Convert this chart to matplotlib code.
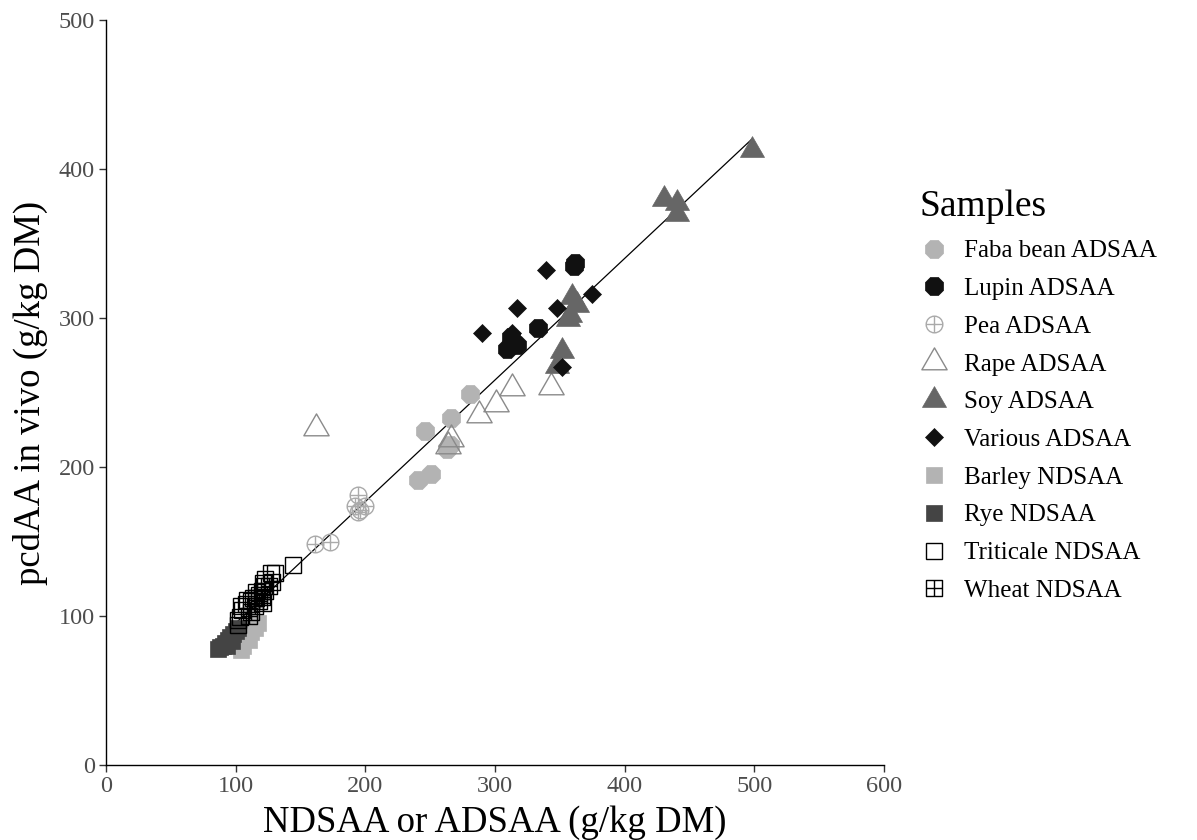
import matplotlib
matplotlib.use("Agg")
import matplotlib.pyplot as plt
from matplotlib.path import Path

plt.rcParams['font.family'] = ['Liberation Serif', 'DejaVu Serif']

# Sample values (g/kg DM): x = NDSAA or ADSAA, y = pcdAA in vivo
faba_x = [241, 251, 246, 263, 265, 266, 281]
faba_y = [191, 195, 224, 212, 215, 233, 249]

lupin_x = [362, 361, 333, 309, 313, 317, 312]
lupin_y = [337, 335, 293, 279, 283, 282, 287]

pea_x = [161, 173, 192, 194, 196, 200, 194]
pea_y = [148, 150, 174, 170, 171, 174, 181]

rape_x = [162, 343, 313, 301, 288, 266, 264]
rape_y = [226, 254, 253, 242, 235, 219, 214]

soy_x = [498, 430, 440, 440, 359, 363, 358, 356, 352, 348]
soy_y = [413, 380, 377, 370, 314, 309, 302, 299, 278, 268]

various_x = [290, 317, 339, 348, 375, 352, 313]
various_y = [290, 307, 332, 307, 316, 267, 290]

barley_x = [103, 108, 112, 115, 117, 106, 100, 110, 104]
barley_y = [83, 86, 89, 92, 95, 80, 82, 84, 77]

rye_x = [86, 88, 90, 92, 94, 96, 98, 100, 93, 97, 102]
rye_y = [78, 79, 80, 82, 84, 86, 88, 90, 80, 83, 92]

triticale_x = [144, 130, 127, 123, 121, 120, 116, 113, 109, 108, 104, 103, 102, 102, 105, 112, 118, 122]
triticale_y = [134, 129, 129, 125, 122, 117, 116, 112, 111, 108, 107, 99, 97, 94, 104, 110, 114, 120]

wheat_x = [112, 115, 118, 120, 123, 126, 128, 116, 110, 121]
wheat_y = [103, 107, 110, 113, 117, 120, 123, 112, 100, 109]

# Linear fit of pcdAA on NDSAA/ADSAA
fit_intercept = 13.6
fit_slope = 0.816
fit_range = [87, 498]

# Marker shapes
circle_plus = Path.make_compound_path(
    Path.unit_circle(),
    Path([[-1, 0], [1, 0]], [Path.MOVETO, Path.LINETO]),
    Path([[0, -1], [0, 1]], [Path.MOVETO, Path.LINETO]),
)
square_plus = Path.make_compound_path(
    Path([[-1, -1], [1, -1], [1, 1], [-1, 1], [-1, -1]],
         [Path.MOVETO, Path.LINETO, Path.LINETO, Path.LINETO, Path.CLOSEPOLY]),
    Path([[-1, 0], [1, 0]], [Path.MOVETO, Path.LINETO]),
    Path([[0, -1], [0, 1]], [Path.MOVETO, Path.LINETO]),
)
triangle = Path([[0, 1], [-0.866, -0.5], [0.866, -0.5], [0, 1]],
                [Path.MOVETO, Path.LINETO, Path.LINETO, Path.CLOSEPOLY])

fig = plt.figure(figsize=(11.97, 8.4), dpi=100)
ax = fig.add_axes([106 / 1197, 1 - 765 / 840, (884 - 106) / 1197, (765 - 20) / 840])

fx = fit_range
fy = [fit_intercept + fit_slope * v for v in fit_range]
ax.plot(fx, fy, color='black', lw=0.9, zorder=1)

series = [
    ("Faba bean ADSAA", faba_x, faba_y, dict(marker='8', ms=13.5, mfc='#b3b3b3', mec='#b3b3b3', mew=0.5)),
    ("Lupin ADSAA", lupin_x, lupin_y, dict(marker='8', ms=13.5, mfc='#111111', mec='#111111', mew=0.5)),
    ("Pea ADSAA", pea_x, pea_y, dict(marker=circle_plus, ms=12, mfc='none', mec='#aaaaaa', mew=1.0)),
    ("Rape ADSAA", rape_x, rape_y, dict(marker=triangle, ms=21, mfc='none', mec='#8a8a8a', mew=1.0)),
    ("Soy ADSAA", soy_x, soy_y, dict(marker=triangle, ms=20, mfc='#666666', mec='#666666', mew=0.5)),
    ("Various ADSAA", various_x, various_y, dict(marker='D', ms=9.5, mfc='#111111', mec='#111111', mew=0.5)),
    ("Barley NDSAA", barley_x, barley_y, dict(marker='s', ms=12, mfc='#b3b3b3', mec='#b3b3b3', mew=0.5)),
    ("Rye NDSAA", rye_x, rye_y, dict(marker='s', ms=12, mfc='#444444', mec='#444444', mew=0.5)),
    ("Triticale NDSAA", triticale_x, triticale_y, dict(marker='s', ms=12, mfc='none', mec='black', mew=1.0)),
    ("Wheat NDSAA", wheat_x, wheat_y, dict(marker=square_plus, ms=12, mfc='none', mec='black', mew=1.0)),
]
for label, xs, ys, style in series:
    ax.plot(xs, ys, linestyle='none', label=label, zorder=2, **style)

ax.set_xlim(0, 600)
ax.set_ylim(0, 500)
ax.set_xticks(range(0, 601, 100))
ax.set_yticks(range(0, 501, 100))
for side in ('top', 'right'):
    ax.spines[side].set_visible(False)
for side in ('left', 'bottom'):
    ax.spines[side].set_linewidth(1.0)
    ax.spines[side].set_color('black')
ax.tick_params(direction='out', length=5, width=1, color='#333333',
               labelcolor='#4d4d4d', labelsize=17.5, pad=3)

ax.set_xlabel("NDSAA or ADSAA (g/kg DM)", fontsize=26.5, labelpad=6)
ax.set_ylabel("pcdAA in vivo (g/kg DM)", fontsize=26.5, labelpad=8)

leg = ax.legend(loc='upper left', bbox_to_anchor=(919 / 1197, 1 - 190 / 840),
                bbox_transform=fig.transFigure, frameon=False, title="Samples",
                fontsize=18, title_fontsize=27, alignment='left',
                labelspacing=0.61, handlelength=1.2, handletextpad=0.6,
                borderpad=0, borderaxespad=0)

fig.savefig("out.png", dpi=100)
